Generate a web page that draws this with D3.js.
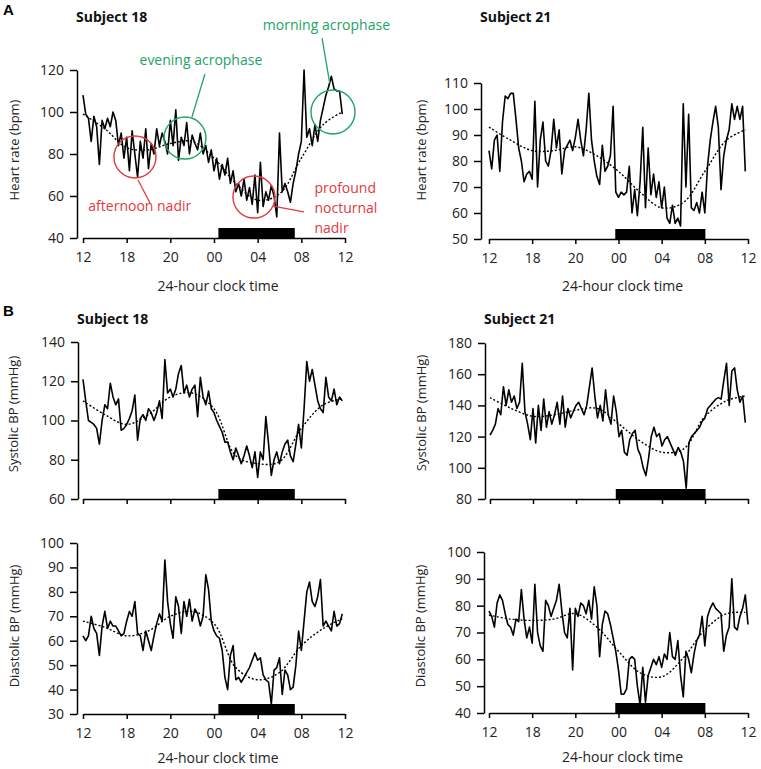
<!DOCTYPE html>
<html>
<head>
<meta charset="utf-8">
<title>Subjects 18 and 21: 24-hour heart rate and blood pressure</title>
<script src="https://d3js.org/d3.v7.min.js"></script>
<style>
  body { margin: 0; background: #fff; }
  text { font-family: "Open Sans", "DejaVu Sans", sans-serif; }
</style>
</head>
<body>
<script>
// x axis: hours since the 12:00 start of the recording
const step = 0.25;
const tickHours = [0, 4, 8, 12, 16, 20, 24];
const tickLabels = ["12", "18", "20", "00", "04", "08", "12"];
const trendHours = [0, 2, 4, 6, 8, 10, 12, 14, 16, 18, 20, 22, 23.75];

// heart rate, subject 18 (bpm), every 15 min
const hr18 = [108, 99, 97, 86, 98, 93, 75, 96, 92, 97, 93, 100, 96, 84, 90, 78,
  88, 72, 91, 80, 69, 86, 78, 92, 73, 85, 80, 92, 84, 90, 86, 80,
  96, 84, 101, 77, 88, 84, 95, 80, 89, 85, 82, 90, 80, 84, 76, 82,
  72, 78, 68, 75, 70, 78, 66, 72, 62, 66, 60, 68, 58, 64, 56, 70,
  52, 76, 55, 62, 58, 65, 60, 50, 90, 62, 66, 62, 57, 66, 72, 80,
  86, 120, 88, 92, 84, 94, 86, 96, 102, 108, 112, 117, 111, 110, 110, 99];
const hr18Trend = [99, 92, 83, 82, 85, 86, 78, 66, 58, 61, 78, 94, 100];

// heart rate, subject 21 (bpm)
const hr21 = [84, 77, 88, 90, 76, 95, 105, 104, 106, 106, 96, 85, 80, 72, 75, 76,
  73, 103, 70, 88, 95, 80, 78, 84, 96, 85, 92, 75, 84, 86, 88, 84,
  89, 96, 88, 82, 92, 106, 88, 80, 74, 71, 86, 76, 78, 82, 101, 68,
  66, 68, 67, 68, 78, 60, 69, 59, 72, 93, 62, 85, 67, 75, 66, 72,
  62, 70, 58, 56, 63, 56, 58, 55, 102, 70, 98, 62, 61, 64, 60, 68,
  60, 78, 88, 95, 101, 93, 69, 82, 88, 92, 102, 96, 101, 96, 101, 76];
const hr21Trend = [93, 88, 84, 84, 85.5, 82, 76, 68, 62, 64, 76, 88, 92];

// systolic BP, subject 18 (mmHg)
const sbp18 = [121, 110, 100, 99, 98, 96, 88, 100, 108, 106, 119, 112, 108, 111, 95, 96,
  98, 101, 105, 113, 90, 101, 103, 100, 106, 104, 100, 104, 110, 101, 131, 114,
  116, 112, 116, 124, 128, 114, 118, 112, 116, 118, 102, 122, 112, 108, 115, 106,
  104, 100, 97, 94, 89, 89, 84, 80, 86, 82, 78, 82, 87, 82, 76, 84,
  71, 84, 80, 102, 88, 72, 80, 84, 78, 84, 88, 90, 82, 79, 88, 98,
  86, 106, 130, 120, 126, 118, 110, 106, 104, 122, 112, 110, 116, 108, 112, 110];
const sbp18Trend = [110, 103, 98, 103, 112, 114, 106, 82, 78, 79, 96, 108, 111];

// systolic BP, subject 21 (mmHg)
const sbp21 = [121, 124, 128, 138, 134, 152, 140, 150, 142, 146, 138, 142, 167, 136, 128, 118,
  138, 116, 140, 124, 144, 126, 136, 128, 134, 142, 128, 146, 126, 138, 132, 136,
  140, 142, 138, 134, 140, 152, 164, 146, 132, 140, 130, 150, 134, 128, 146, 136,
  120, 124, 110, 108, 118, 122, 124, 112, 108, 100, 95, 106, 120, 126, 120, 122,
  114, 118, 120, 116, 112, 108, 113, 110, 104, 87, 116, 120, 122, 124, 126, 130,
  132, 138, 140, 142, 144, 145, 144, 156, 167, 140, 162, 164, 150, 142, 146, 129];
const sbp21Trend = [145, 138, 133, 134, 137, 138, 128, 117, 110, 112, 133, 143, 146];

// diastolic BP, subject 18 (mmHg)
const dbp18 = [62, 60, 62, 70, 65, 63, 54, 66, 72, 65, 68, 66, 66, 64, 62, 63,
  68, 72, 70, 76, 63, 62, 56, 64, 60, 56, 62, 67, 71, 68, 93, 76,
  67, 61, 78, 74, 63, 76, 70, 77, 68, 73, 71, 66, 70, 87, 81, 68,
  64, 62, 61, 56, 45, 40, 54, 58, 44, 45, 43, 45, 47, 49, 52, 55,
  52, 53, 46, 44, 43, 34, 48, 49, 53, 38, 48, 46, 40, 41, 50, 64,
  56, 68, 80, 84, 76, 74, 78, 85, 66, 68, 66, 64, 72, 66, 67, 71];
const dbp18Trend = [68, 65.5, 62, 64, 70, 72, 67, 49, 44, 47, 58, 65, 69];

// diastolic BP, subject 21 (mmHg)
const dbp21 = [78, 76, 72, 81, 84, 82, 77, 73, 72, 69, 75, 74, 86, 75, 68, 72,
  66, 88, 70, 65, 63, 82, 80, 76, 79, 82, 88, 78, 70, 68, 79, 56,
  79, 76, 81, 80, 77, 82, 75, 87, 80, 61, 73, 78, 77, 73, 68, 63,
  56, 47, 47, 49, 60, 61, 60, 50, 43, 57, 44, 54, 57, 60, 58, 61,
  57, 62, 60, 70, 61, 60, 67, 54, 46, 63, 60, 55, 62, 67, 69, 76,
  65, 76, 79, 81, 79, 78, 77, 63, 69, 72, 90, 72, 71, 76, 79, 84, 73];
const dbp21Trend = [76.5, 75, 74.5, 75, 77, 72, 63, 55, 53.5, 60.5, 71, 77, 77.5];

// sleep periods (hours since 12:00)
const sleep18 = [12.4, 19.4];
const sleep21 = [11.7, 20.05];

const red = "#e23a40";
const green = "#22a366";

const svg = d3.select("body").append("svg")
  .attr("width", 761)
  .attr("height", 769);

function panel(p) {
  const x = d3.scaleLinear().domain([0, 24]).range([p.x0, p.x1]);
  const y = d3.scaleLinear().domain(p.yDomain).range([p.yBottom, p.yTop]);
  const g = svg.append("g");

  // sleep bar sitting on the x axis
  g.append("rect")
    .attr("x", x(p.sleep[0]))
    .attr("width", x(p.sleep[1]) - x(p.sleep[0]))
    .attr("y", p.yBottom - 10)
    .attr("height", 10)
    .attr("fill", "#000");

  const xAxis = d3.axisBottom(x)
    .tickValues(tickHours)
    .tickFormat((d, i) => p.labels ? tickLabels[i] : "")
    .tickSizeInner(5)
    .tickSizeOuter(0)
    .tickPadding(9);
  const xg = g.append("g")
    .attr("transform", "translate(0," + p.yBottom + ")")
    .call(xAxis);

  const yAxis = d3.axisLeft(y)
    .tickValues(d3.range(p.yDomain[0], p.yDomain[1] + 0.1, p.yStep))
    .tickSizeInner(7)
    .tickSizeOuter(0)
    .tickPadding(6);
  const yg = g.append("g")
    .attr("transform", "translate(" + p.yAxisX + ",0)")
    .call(yAxis);

  [xg, yg].forEach(a => {
    a.selectAll("path, line").attr("stroke", "#000").attr("stroke-width", 1.5);
    a.selectAll("text").style("font-size", "14px").attr("fill", "#222");
  });

  // dotted trend
  g.append("path")
    .datum(p.trend.map((v, i) => [trendHours[i], v]))
    .attr("fill", "none")
    .attr("stroke", "#000")
    .attr("stroke-width", 1.4)
    .attr("stroke-dasharray", "2,2")
    .attr("d", d3.line().x(d => x(d[0])).y(d => y(d[1])).curve(d3.curveCatmullRom));

  // measured series
  g.append("path")
    .datum(p.values)
    .attr("fill", "none")
    .attr("stroke", "#000")
    .attr("stroke-width", 1.6)
    .attr("stroke-linejoin", "round")
    .attr("d", d3.line().x((d, i) => x(i * step)).y(d => y(d)));

  // y label
  g.append("text")
    .attr("transform", "translate(" + p.yLabelX + "," + p.yLabelY + ") rotate(-90)")
    .attr("text-anchor", "middle")
    .attr("dy", "0.35em")
    .style("font-size", "13px")
    .attr("fill", "#222")
    .text(p.yLabel);

  if (p.xLabelY) {
    g.append("text")
      .attr("x", (p.x0 + p.x1) / 2 + 4)
      .attr("y", p.xLabelY)
      .attr("dy", "0.35em")
      .attr("text-anchor", "middle")
      .style("font-size", "14px")
      .attr("fill", "#222")
      .text("24-hour clock time");
  }
  if (p.title) {
    g.append("text")
      .attr("x", p.yAxisX - 1)
      .attr("y", p.titleY)
      .attr("dy", "0.35em")
      .style("font-size", "14px")
      .style("font-weight", "bold")
      .attr("fill", "#111")
      .text(p.title);
  }
  return { x: x, y: y, g: g };
}

const a18 = panel({ x0: 83, x1: 345, yAxisX: 77, yTop: 70, yBottom: 238, yDomain: [40, 120], yStep: 20,
  values: hr18, trend: hr18Trend, sleep: sleep18, labels: true, xLabelY: 286,
  yLabel: "Heart rate (bpm)", yLabelX: 14, yLabelY: 150, title: "Subject 18", titleY: 17 });
panel({ x0: 489, x1: 748, yAxisX: 481, yTop: 83, yBottom: 239, yDomain: [50, 110], yStep: 10,
  values: hr21, trend: hr21Trend, sleep: sleep21, labels: true, xLabelY: 286,
  yLabel: "Heart rate (bpm)", yLabelX: 421, yLabelY: 150, title: "Subject 21", titleY: 17 });
panel({ x0: 83, x1: 345, yAxisX: 78, yTop: 342, yBottom: 499, yDomain: [60, 140], yStep: 20,
  values: sbp18, trend: sbp18Trend, sleep: sleep18, labels: false,
  yLabel: "Systolic BP (mmHg)", yLabelX: 13, yLabelY: 414, title: "Subject 18", titleY: 319 });
panel({ x0: 490, x1: 748, yAxisX: 485, yTop: 343, yBottom: 499, yDomain: [80, 180], yStep: 20,
  values: sbp21, trend: sbp21Trend, sleep: sleep21, labels: false,
  yLabel: "Systolic BP (mmHg)", yLabelX: 421, yLabelY: 413, title: "Subject 21", titleY: 319 });
panel({ x0: 83, x1: 345, yAxisX: 77, yTop: 543, yBottom: 714, yDomain: [30, 100], yStep: 10,
  values: dbp18, trend: dbp18Trend, sleep: sleep18, labels: true, xLabelY: 758,
  yLabel: "Diastolic BP (mmHg)", yLabelX: 14, yLabelY: 626 });
panel({ x0: 489, x1: 748, yAxisX: 484, yTop: 552, yBottom: 713, yDomain: [40, 100], yStep: 10,
  values: dbp21, trend: dbp21Trend, sleep: sleep21, labels: true, xLabelY: 757,
  yLabel: "Diastolic BP (mmHg)", yLabelX: 420, yLabelY: 626 });

// panel letters
svg.append("text").attr("x", 3).attr("y", 10).attr("dy", "0.35em")
  .style("font-family", "Liberation Sans, Arial, sans-serif").style("font-weight", "bold").style("font-size", "15px").text("A");
svg.append("text").attr("x", 3).attr("y", 311).attr("dy", "0.35em")
  .style("font-family", "Liberation Sans, Arial, sans-serif").style("font-weight", "bold").style("font-size", "15px").text("B");

// annotations on subject 18 heart rate (hour, bpm)
const circles = [
  { h: 4.76, v: 78.6, r: 21, c: red },
  { h: 9.34, v: 87.6, r: 21, c: green },
  { h: 15.66, v: 59.5, r: 21, c: red },
  { h: 22.9, v: 100, r: 22, c: green }
];
const leaders = [
  { h1: 5.04, v1: 67.6, h2: 6.14, v2: 56.7, c: red },
  { h1: 11.17, v1: 118.1, h2: 9.98, v2: 97.6, c: green },
  { h1: 21.9, v1: 135.2, h2: 22.6, v2: 113.8, c: green },
  { h1: 17.4, v1: 55.2, h2: 20.24, v2: 52.4, c: red }
];
const notes = [
  { h: 5.2, v: 55.2, t: "afternoon nadir", c: red, anchor: "middle" },
  { h: 10.8, v: 124.8, t: "evening acrophase", c: green, anchor: "middle" },
  { h: 22.3, v: 141.4, t: "morning acrophase", c: green, anchor: "middle" },
  { h: 21.2, v: 63.8, t: "profound", c: red, anchor: "start" },
  { h: 21.2, v: 54.3, t: "nocturnal", c: red, anchor: "start" },
  { h: 21.2, v: 44.8, t: "nadir", c: red, anchor: "start" }
];

const ann = svg.append("g");
ann.selectAll("circle").data(circles).enter().append("circle")
  .attr("cx", d => a18.x(d.h))
  .attr("cy", d => a18.y(d.v))
  .attr("r", d => d.r)
  .attr("fill", "none")
  .attr("stroke", d => d.c)
  .attr("stroke-width", 1.4);
ann.selectAll("line").data(leaders).enter().append("line")
  .attr("x1", d => a18.x(d.h1)).attr("y1", d => a18.y(d.v1))
  .attr("x2", d => a18.x(d.h2)).attr("y2", d => a18.y(d.v2))
  .attr("stroke", d => d.c)
  .attr("stroke-width", 1.3);
ann.selectAll("text").data(notes).enter().append("text")
  .attr("x", d => a18.x(d.h))
  .attr("y", d => a18.y(d.v))
  .attr("dy", "0.35em")
  .attr("text-anchor", d => d.anchor)
  .style("font-size", "14px")
  .attr("fill", d => d.c)
  .text(d => d.t);
</script>
</body>
</html>
